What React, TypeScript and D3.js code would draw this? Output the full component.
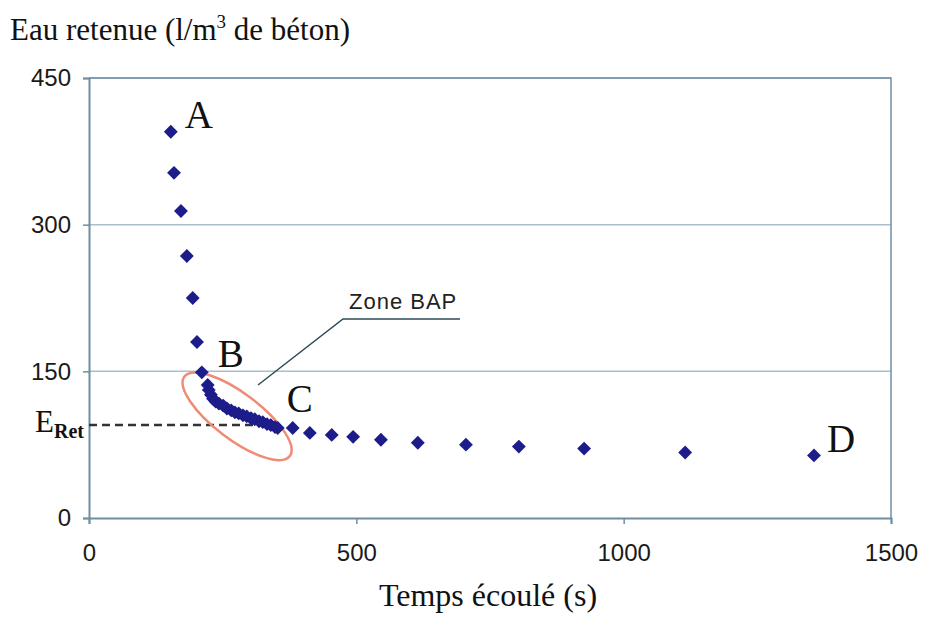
import React, { useRef, useEffect } from 'react';
import * as d3 from 'd3';

// elapsed time (s) and retained water (l/m3 of concrete)
const timeS = [
  153, 159, 172, 183, 194, 202, 211,
  222, 224, 228, 232, 237, 243, 251, 258, 266, 273, 280, 288, 295, 303, 310, 318, 325, 333, 340, 348, 353,
  381, 413, 454, 494, 546, 615, 705, 804, 926, 1115, 1356,
];
const eauRetenue = [
  395, 353, 314, 268, 225, 180, 149,
  136, 131, 126, 122, 119, 117, 115, 112, 110, 108, 107, 105, 104, 102, 101, 99, 98, 96, 95, 93, 92,
  92, 87, 85, 83, 80, 77, 75, 73, 71, 67, 64,
];
const xTicks = [0, 500, 1000, 1500];
const yTicks = [0, 150, 300, 450];
const eRet = 95;
// labelled points: letter and index in the series
const pointLabels = [
  { letter: 'A', idx: 0, dx: 14, dy: -4 },
  { letter: 'B', idx: 6, dx: 16, dy: -5 },
  { letter: 'C', idx: 28, dx: -6, dy: -16 },
  { letter: 'D', idx: 38, dx: 13, dy: -3 },
];
const zoneCentre = { t: 277, e: 104 };

const App = () => {
  const ref = useRef<HTMLDivElement>(null);

  useEffect(() => {
    document.body.style.margin = '0';
    const width = 927;
    const height = 617;
    const left = 89, right = 891, top = 78, bottom = 518;

    const x = d3.scaleLinear().domain([0, 1500]).range([left, right]);
    const y = d3.scaleLinear().domain([0, 450]).range([bottom, top]);

    const axisCol = '#6f8ea2';
    const gridCol = '#a9bfcc';
    const serif = '"Liberation Serif", "Times New Roman", serif';
    const sans = '"Liberation Sans", Arial, sans-serif';

    const root = d3.select(ref.current);
    root.selectAll('*').remove();
    const svg = root.append('svg')
      .attr('width', width)
      .attr('height', height)
      .style('display', 'block')
      .style('background', '#fff');

    // gridlines
    svg.append('g').selectAll('line')
      .data(yTicks.filter(v => v > 0))
      .join('line')
        .attr('x1', left).attr('x2', right)
        .attr('y1', d => y(d)).attr('y2', d => y(d))
        .attr('stroke', gridCol).attr('stroke-width', 1.5);

    // plot border (top + right)
    svg.append('path')
      .attr('d', `M${left},${top}H${right}V${bottom}`)
      .attr('fill', 'none').attr('stroke', axisCol).attr('stroke-width', 1.5);

    // axes
    const xAxis = svg.append('g')
      .attr('transform', `translate(0,${bottom})`)
      .call(d3.axisBottom(x).tickValues(xTicks).tickSize(6).tickPadding(20).tickFormat(d3.format('d')));
    const yAxis = svg.append('g')
      .attr('transform', `translate(${left},0)`)
      .call(d3.axisLeft(y).tickValues(yTicks).tickSize(6).tickPadding(12).tickFormat(d3.format('d')));
    [xAxis, yAxis].forEach(a => {
      a.select('.domain').attr('stroke', axisCol).attr('stroke-width', 2);
      a.selectAll('.tick line').attr('stroke', axisCol).attr('stroke-width', 1.5);
      a.selectAll('.tick text')
        .attr('font-family', sans).attr('font-size', 24).attr('fill', '#1a1a1a');
    });

    // E_Ret dashed line
    svg.append('line')
      .attr('x1', left).attr('x2', x(345))
      .attr('y1', y(eRet)).attr('y2', y(eRet))
      .attr('stroke', '#333').attr('stroke-width', 2.5)
      .attr('stroke-dasharray', '8,5');
    const eText = svg.append('text')
      .attr('x', 35).attr('y', y(eRet) + 7)
      .attr('font-family', serif).attr('fill', '#111');
    eText.append('tspan').attr('font-size', 31).text('E');
    eText.append('tspan').attr('font-size', 20).attr('font-weight', 'bold').attr('dy', 6).text('Ret');

    // zone ellipse
    svg.append('ellipse')
      .attr('cx', x(zoneCentre.t)).attr('cy', y(zoneCentre.e))
      .attr('rx', 66).attr('ry', 23)
      .attr('transform', `rotate(37,${x(zoneCentre.t)},${y(zoneCentre.e)})`)
      .attr('fill', 'none').attr('stroke', '#ee8c78').attr('stroke-width', 2.5);

    // leader line and label
    svg.append('path')
      .attr('d', `M258,385L343,319H460`)
      .attr('fill', 'none').attr('stroke', '#2d4a58').attr('stroke-width', 1.5);
    svg.append('text')
      .attr('x', 349).attr('y', 309)
      .attr('font-family', sans).attr('font-size', 22).attr('letter-spacing', 1)
      .attr('fill', '#222')
      .text('Zone BAP');

    // points
    const pts = timeS.map((t, i) => ({ t, e: eauRetenue[i] }));
    const diamond = d3.symbol(d3.symbolSquare, 96)();
    svg.append('g').selectAll('path')
      .data(pts)
      .join('path')
        .attr('d', diamond)
        .attr('transform', d => `translate(${x(d.t)},${y(d.e)}) rotate(45)`)
        .attr('fill', '#1c1c8a');

    // point letters
    svg.append('g').selectAll('text')
      .data(pointLabels)
      .join('text')
        .attr('x', d => x(timeS[d.idx]) + d.dx)
        .attr('y', d => y(eauRetenue[d.idx]) + d.dy)
        .attr('font-family', serif).attr('font-size', 39).attr('fill', '#111')
        .text(d => d.letter);

    // titles
    const title = svg.append('text')
      .attr('x', 10).attr('y', 40)
      .attr('font-family', serif).attr('font-size', 31).attr('fill', '#111');
    title.append('tspan').text('Eau retenue (l/m');
    title.append('tspan').attr('font-size', 19).attr('dy', -12).text('3');
    title.append('tspan').attr('dy', 12).text(' de béton)');

    svg.append('text')
      .attr('x', 488).attr('y', 606)
      .attr('text-anchor', 'middle')
      .attr('font-family', serif).attr('font-size', 32).attr('fill', '#111')
      .text('Temps écoulé (s)');
  }, []);

  return <div ref={ref} style={{ width: 927, height: 617 }} />;
};

export default App;
